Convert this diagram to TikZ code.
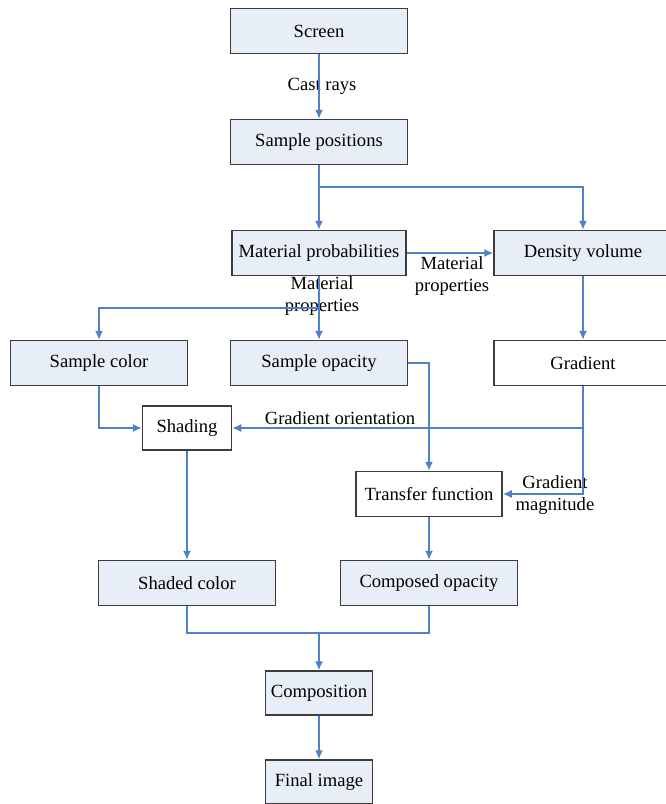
\documentclass[tikz,border=0pt]{standalone}
\usepackage{fontspec}
\setmainfont{Liberation Serif}
\newfontfamily\diagfont{Liberation Serif}
\usetikzlibrary{arrows,arrows.meta,positioning}
\definecolor{boxfill}{RGB}{232,238,248}
\definecolor{flowblue}{RGB}{79,129,201}
\definecolor{boxline}{RGB}{60,60,60}

\begin{document}
\begin{tikzpicture}[x=1pt,y=1pt]
\tikzstyle{stage}=[rectangle, minimum width=177pt, minimum height=45pt, inner sep=0pt, line width=1.5pt, draw=boxline, fill=boxfill, font=\diagfont\fontsize{18.6}{22}\selectfont]
\tikzstyle{plain}=[stage, fill=white]
\tikzstyle{flow}=[line width=1.4pt, draw=flowblue]
\tikzstyle{connect}=[flow, -{Latex[length=9pt,width=8pt]}]
\tikzstyle{note}=[inner sep=0pt, align=center, font=\diagfont\fontsize{18.6}{22}\selectfont]
\useasboundingbox (0,0) rectangle (665,-804);
	\node[stage] (screen) at (319,-31) {Screen};
	\node[stage] (samplepos) at (319,-142) {Sample positions};
	\node[stage, minimum width=174pt] (matprob) at (319,-253) {Material probabilities};
	\node[stage, minimum width=178pt] (density) at (583,-253) {Density volume};
	\node[stage] (samplecolor) at (99,-363) {Sample color};
	\node[stage] (sampleopacity) at (319,-363) {Sample opacity};
	\node[plain, minimum width=178pt] (gradient) at (583,-363) {Gradient};
	\node[plain, minimum width=89pt, minimum height=44pt] (shading) at (187,-428) {Shading};
	\node[plain, minimum width=146pt] (transfer) at (429,-494) {Transfer function};
	\node[stage] (shadedcolor) at (187,-583) {Shaded color};
	\node[stage] (composedopacity) at (429,-583) {Composed opacity};
	\node[stage, minimum width=107pt, minimum height=44pt] (composition) at (319,-693) {Composition};
	\node[stage, minimum width=107pt, minimum height=44pt] (finalimage) at (319,-782) {Final image};

	% labels on the connectors
	\node[note] (castrays) at (322,-86) {Cast rays};
	\node[note] (matprop1) at (452,-276) {Material\\properties};
	\node[note] (matprop2) at (322,-296) {Material\\properties};
	\node[note] (gradorient) at (340,-418) {Gradient orientation};
	\node[note] (gradmag) at (555,-495) {Gradient\\magnitude};

	\coordinate (split1) at (319,-187);
	\coordinate (split2) at (319,-308);
	\coordinate (split3) at (583,-428);
	\coordinate (join1) at (319,-633);

	\draw[connect] (screen) -- (samplepos);
	\draw[connect] (samplepos) -- (matprob);
	\draw[connect] (split1) -| (density.north);
	\draw[connect] (matprob) -- (density);
	\draw[connect] (matprob) -- (sampleopacity);
	\draw[connect] (split2) -| (samplecolor.north);
	\draw[connect] (density) -- (gradient);
	\draw[connect] (samplecolor.south) |- (shading.west);
	\draw[connect] (gradient.south) -- (split3) -- (shading.east);
	\draw[connect] (split3) |- (transfer.east);
	\draw[connect] (sampleopacity.east) -| (transfer.north);
	\draw[connect] (shading) -- (shadedcolor);
	\draw[connect] (transfer) -- (composedopacity);
	\draw[flow] (shadedcolor.south) |- (join1) -| (composedopacity.south);
	\draw[connect] (join1) -- (composition);
	\draw[connect] (composition) -- (finalimage);
\end{tikzpicture}
\end{document}
